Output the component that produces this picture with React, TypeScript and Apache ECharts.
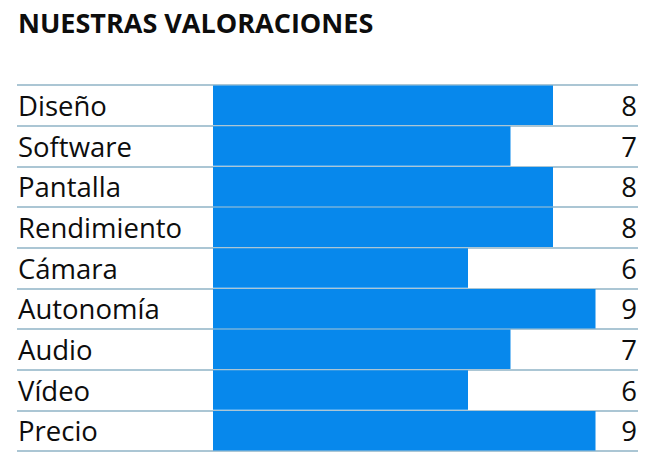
import { useEffect, useRef } from 'react'
import * as echarts from 'echarts'

const categories = ['Diseño', 'Software', 'Pantalla', 'Rendimiento', 'Cámara', 'Autonomía', 'Audio', 'Vídeo', 'Precio']
const scores = [8, 7, 8, 8, 6, 9, 7, 6, 9]
const title = 'NUESTRAS VALORACIONES'

export default function App() {
  const chartRef = useRef<HTMLDivElement | null>(null)

  useEffect(() => {
    if (!chartRef.current) {
      return undefined
    }

    const chart = echarts.init(chartRef.current, undefined, { renderer: 'svg' })
    const font = "'Open Sans', 'Noto Sans', sans-serif"

    chart.setOption({
      animation: false,
      backgroundColor: '#ffffff',
      title: {
        text: title,
        left: 18,
        top: 9,
        padding: 0,
        textStyle: {
          fontFamily: font,
          fontSize: 27,
          fontWeight: 'bold',
          color: '#0d0d0d',
        },
      },
      grid: { left: 17, right: 12, top: 85, bottom: 10 },
      xAxis: {
        type: 'value',
        min: -4.612,
        max: 10,
        show: false,
      },
      yAxis: [
        {
          type: 'category',
          data: categories,
          inverse: true,
          axisLine: { show: false },
          axisTick: { show: false },
          axisLabel: {
            inside: true,
            margin: 1,
            align: 'left',
            fontFamily: font,
            fontSize: 27.5,
            color: '#0d0d0d',
          },
          splitLine: {
            show: true,
            lineStyle: { color: '#8fb3c6', width: 1.5 },
          },
        },
        {
          type: 'category',
          data: scores.map((v) => String(v)),
          inverse: true,
          position: 'right',
          axisLine: { show: false },
          axisTick: { show: false },
          axisLabel: {
            inside: true,
            margin: 1,
            align: 'right',
            fontFamily: font,
            fontSize: 27.5,
            color: '#0d0d0d',
          },
          splitLine: { show: false },
        },
      ],
      series: [
        {
          type: 'bar',
          data: scores,
          yAxisIndex: 0,
          barCategoryGap: '3%',
          itemStyle: { color: '#0788ec' },
          z: 1,
        },
      ],
    })

    return () => {
      chart.dispose()
    }
  }, [])

  return (
    <div
      ref={chartRef}
      style={{ position: 'fixed', left: 0, top: 0, width: 650, height: 461 }}
    />
  )
}
